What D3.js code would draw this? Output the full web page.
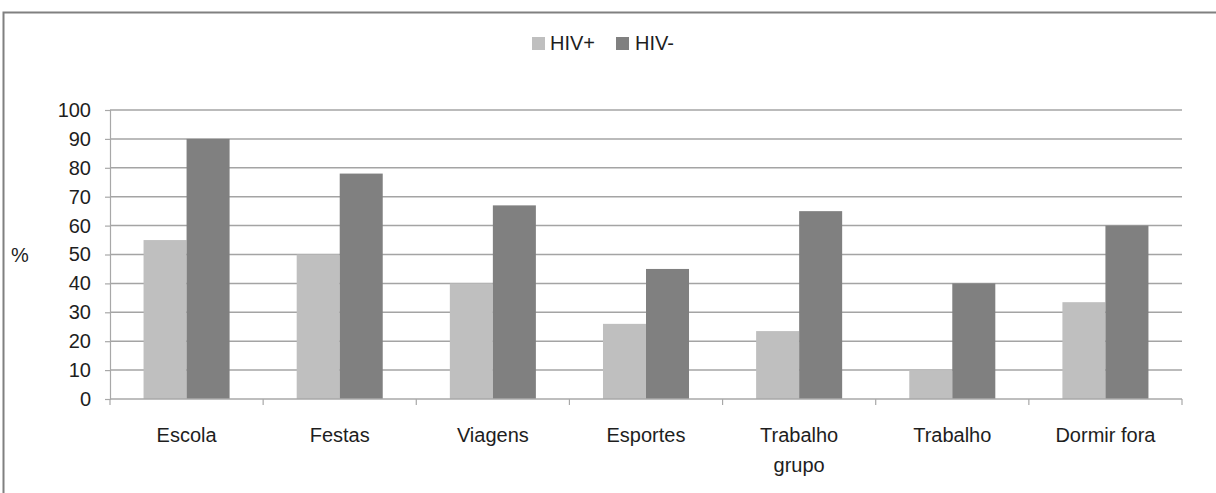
<!DOCTYPE html>
<html>
<head>
<meta charset="utf-8">
<script src="https://cdn.jsdelivr.net/npm/d3@7"></script>
<style>
  html, body { margin: 0; padding: 0; background: #fff; }
  svg { display: block; font-family: "Liberation Sans", Arial, sans-serif; }
</style>
</head>
<body>
<svg id="chart" width="1216" height="493"></svg>
<script>
// Activity categories (x axis); "\n" marks a line break in the label
const categories = ["Escola", "Festas", "Viagens", "Esportes", "Trabalho\ngrupo", "Trabalho", "Dormir fora"];
const seriesNames = ["HIV+", "HIV-"];
const hivPos = [55, 50, 40, 26, 23.5, 10, 33.5];
const hivNeg = [90, 78, 67, 45, 65, 40, 60];
const yTicks = [0, 10, 20, 30, 40, 50, 60, 70, 80, 90, 100];
const yLabel = "%";

const colors = { "HIV+": "#bfbfbf", "HIV-": "#808080" };
const values = { "HIV+": hivPos, "HIV-": hivNeg };

const svg = d3.select("#chart");
const W = 1216, H = 493;
const plot = { left: 110, right: 1182, top: 110, bottom: 399 };
const fontSize = 20;
const textColor = "#1e1e1e";

// Outer frame (top and left edges visible)
svg.append("path")
  .attr("d", `M3.5,${H} L3.5,12.5 L${W},12.5`)
  .attr("fill", "none")
  .attr("stroke", "#808080")
  .attr("stroke-width", 2);

const x = d3.scaleBand().domain(categories).range([plot.left, plot.right]).paddingInner(0).paddingOuter(0);
const xs = d3.scaleBand().domain(seriesNames).range([0, x.bandwidth()]).paddingInner(0).paddingOuter(0.78);
const y = d3.scaleLinear().domain([0, 100]).range([plot.bottom, plot.top]);

// Horizontal gridlines
svg.append("g").selectAll("line")
  .data(yTicks.filter(t => t > 0))
  .join("line")
  .attr("x1", plot.left).attr("x2", plot.right)
  .attr("y1", d => y(d)).attr("y2", d => y(d))
  .attr("stroke", "#a4a4a4")
  .attr("stroke-width", 1.5);

// Y axis
const yAxis = svg.append("g")
  .attr("transform", `translate(${plot.left},0)`)
  .call(d3.axisLeft(y).tickValues(yTicks).tickSize(5).tickPadding(14).tickFormat(d3.format("d")));
yAxis.select(".domain").attr("stroke", "#a8a8a8").attr("stroke-width", 1.2);
yAxis.selectAll(".tick line").attr("stroke", "#a8a8a8").attr("stroke-width", 1.2);
yAxis.selectAll(".tick text")
  .attr("font-size", fontSize)
  .attr("font-family", "Liberation Sans, Arial, sans-serif")
  .attr("fill", textColor);

// Y axis title
svg.append("text")
  .attr("x", 11)
  .attr("y", (plot.top + plot.bottom) / 2 + 7)
  .attr("font-size", fontSize)
  .attr("fill", textColor)
  .text(yLabel);

// Bars
const groups = svg.append("g").selectAll("g")
  .data(categories)
  .join("g")
  .attr("transform", d => `translate(${x(d)},0)`);

groups.selectAll("rect")
  .data((d, i) => seriesNames.map(s => ({ s, v: values[s][i] })))
  .join("rect")
  .attr("x", d => xs(d.s))
  .attr("width", xs.bandwidth())
  .attr("y", d => y(d.v))
  .attr("height", d => y(0) - y(d.v))
  .attr("fill", d => colors[d.s]);

// X axis baseline and category boundary ticks
svg.append("line")
  .attr("x1", plot.left).attr("x2", plot.right)
  .attr("y1", plot.bottom).attr("y2", plot.bottom)
  .attr("stroke", "#a8a8a8").attr("stroke-width", 1.5);

const boundaries = categories.map(c => x(c)).concat([plot.right]);
svg.append("g").selectAll("line")
  .data(boundaries)
  .join("line")
  .attr("x1", d => d).attr("x2", d => d)
  .attr("y1", plot.bottom).attr("y2", plot.bottom + 6)
  .attr("stroke", "#a8a8a8").attr("stroke-width", 1.2);

// Category labels
const xl = svg.append("g").selectAll("text")
  .data(categories)
  .join("text")
  .attr("x", d => x(d) + x.bandwidth() / 2)
  .attr("y", 442)
  .attr("text-anchor", "middle")
  .attr("font-size", fontSize)
  .attr("fill", textColor);
xl.selectAll("tspan")
  .data(d => d.split("\n"))
  .join("tspan")
  .attr("x", function () { return d3.select(this.parentNode).attr("x"); })
  .attr("dy", (d, i) => i === 0 ? 0 : 30)
  .text(d => d);

// Legend
const legendItems = [
  { name: seriesNames[0], sx: 532, tx: 550 },
  { name: seriesNames[1], sx: 616, tx: 635 }
];
const lg = svg.append("g");
lg.selectAll("rect")
  .data(legendItems)
  .join("rect")
  .attr("x", d => d.sx).attr("y", 37)
  .attr("width", 13).attr("height", 13)
  .attr("fill", d => colors[d.name]);
lg.selectAll("text")
  .data(legendItems)
  .join("text")
  .attr("x", d => d.tx).attr("y", 50)
  .attr("font-size", fontSize)
  .attr("fill", textColor)
  .text(d => d.name);
</script>
</body>
</html>
